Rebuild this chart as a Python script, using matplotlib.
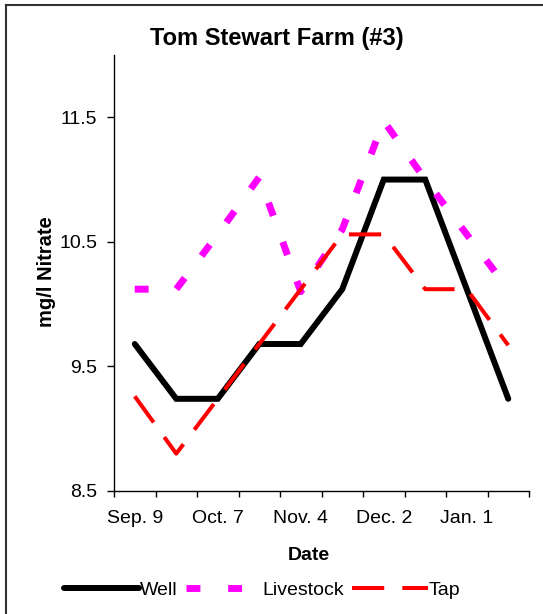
import matplotlib
matplotlib.use("Agg")
import matplotlib.pyplot as plt
from matplotlib.lines import Line2D

plt.rcParams['font.family'] = ['Liberation Sans', 'DejaVu Sans']

# sampling dates (10 samples, every second one labelled)
dates = ["Sep. 9", "", "Oct. 7", "", "Nov. 4", "", "Dec. 2", "", "Jan. 1", ""]
well = [9.68, 9.24, 9.24, 9.68, 9.68, 10.12, 11.0, 11.0, 10.12, 9.24]
livestock = [10.12, 10.12, 10.56, 11.02, 10.10, 10.60, 11.47, 11.0, 10.56, 10.12]
tap = [9.26, 8.80, 9.24, 9.68, 10.12, 10.56, 10.56, 10.12, 10.12, 9.67]
yticks = [8.5, 9.5, 10.5, 11.5]

W, H = 543, 614
fig = plt.figure(figsize=(W / 100, H / 100), dpi=100)
ax = fig.add_axes([114 / W, 1 - 491 / H, (529 - 114) / W, (491 - 55) / H])

x = list(range(len(dates)))
ax.plot(x, well, color="black", lw=4.3, solid_joinstyle="miter",
        solid_capstyle="round", label="Well")
ax.plot(x, livestock, color="#ff00ff", lw=5.0, dashes=(2, 4),
        dash_capstyle="butt", label="Livestock")
ax.plot(x, tap, color="red", lw=2.9, dashes=(8, 4.5),
        dash_capstyle="butt", label="Tap")

ax.set_xlim(-0.5, len(dates) - 0.5)
ax.set_ylim(8.5, 12)
ax.set_yticks(yticks)
ax.set_yticklabels([f"{v:.1f}" for v in yticks])

# ticks between categories, labels on categories
ax.set_xticks([i - 0.5 for i in range(len(dates) + 1)])
ax.set_xticklabels([])
ax.set_xticks([i for i, d in enumerate(dates) if d], minor=True)
ax.set_xticklabels([d for d in dates if d], minor=True)
ax.tick_params(axis="x", which="major", length=4.5, width=1, direction="out")
ax.tick_params(axis="x", which="minor", length=0, pad=14, labelsize=14)
ax.tick_params(axis="y", length=5, width=1, direction="out", pad=7, labelsize=14)

for s in ["top", "right"]:
    ax.spines[s].set_visible(False)
for s in ["left", "bottom"]:
    ax.spines[s].set_linewidth(1)

fig.text(277 / W, 1 - 38 / H, "Tom Stewart Farm (#3)", ha="center", va="center",
         fontsize=17, fontweight="bold")
fig.text(47 / W, 1 - 272 / H, "mg/l Nitrate", ha="center", va="center",
         rotation=90, fontsize=14.5, fontweight="bold")
fig.text(309 / W, 1 - 556 / H, "Date", ha="center", va="center",
         fontsize=14, fontweight="bold")

fig.legend(loc="center", bbox_to_anchor=(262 / W, 1 - 590 / H), ncol=3,
           frameon=False, fontsize=14, handlelength=3.9, handletextpad=0.05,
           columnspacing=0.4, borderaxespad=0)

# outer chart frame (top and left visible)
fig.add_artist(Line2D([6 / W, 1], [1 - 5 / H, 1 - 5 / H], color="#333333", lw=1.5,
                      transform=fig.transFigure))
fig.add_artist(Line2D([6 / W, 6 / W], [0, 1 - 5 / H], color="#333333", lw=1.5,
                      transform=fig.transFigure))

fig.savefig("out.png", dpi=100)
